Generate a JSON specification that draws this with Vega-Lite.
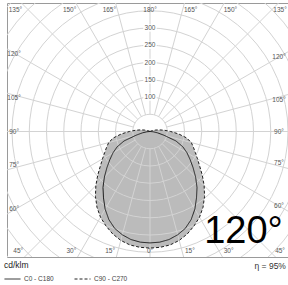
{
  "$schema": "https://vega.github.io/schema/vega-lite/v6.json",
  "width": 281,
  "height": 254,
  "autosize": "none",
  "padding": {"left": 7, "top": 3, "right": 0, "bottom": 28},
  "background": "white",
  "config": {"view": {"stroke": "#9a9a9a", "strokeWidth": 1}, "font": "Liberation Sans"},
  "datasets": {
    "curves": [
      {"s": "C0 - C180", "a": -90, "i": 0}, {"s": "C0 - C180", "a": -85, "i": 9}, {"s": "C0 - C180", "a": -80, "i": 22},
      {"s": "C0 - C180", "a": -75, "i": 42}, {"s": "C0 - C180", "a": -70, "i": 80}, {"s": "C0 - C180", "a": -65, "i": 105},
      {"s": "C0 - C180", "a": -60, "i": 124}, {"s": "C0 - C180", "a": -55, "i": 142}, {"s": "C0 - C180", "a": -50, "i": 163},
      {"s": "C0 - C180", "a": -45, "i": 187}, {"s": "C0 - C180", "a": -40, "i": 212}, {"s": "C0 - C180", "a": -35, "i": 235},
      {"s": "C0 - C180", "a": -30, "i": 260}, {"s": "C0 - C180", "a": -25, "i": 282}, {"s": "C0 - C180", "a": -20, "i": 299},
      {"s": "C0 - C180", "a": -15, "i": 310}, {"s": "C0 - C180", "a": -10, "i": 318}, {"s": "C0 - C180", "a": -5, "i": 322},
      {"s": "C0 - C180", "a": 0, "i": 323},
      {"s": "C0 - C180", "a": 5, "i": 322}, {"s": "C0 - C180", "a": 10, "i": 318}, {"s": "C0 - C180", "a": 15, "i": 310},
      {"s": "C0 - C180", "a": 20, "i": 299}, {"s": "C0 - C180", "a": 25, "i": 282}, {"s": "C0 - C180", "a": 30, "i": 260},
      {"s": "C0 - C180", "a": 35, "i": 235}, {"s": "C0 - C180", "a": 40, "i": 212}, {"s": "C0 - C180", "a": 45, "i": 187},
      {"s": "C0 - C180", "a": 50, "i": 163}, {"s": "C0 - C180", "a": 55, "i": 142}, {"s": "C0 - C180", "a": 60, "i": 124},
      {"s": "C0 - C180", "a": 65, "i": 105}, {"s": "C0 - C180", "a": 70, "i": 80}, {"s": "C0 - C180", "a": 75, "i": 42},
      {"s": "C0 - C180", "a": 80, "i": 22}, {"s": "C0 - C180", "a": 85, "i": 9}, {"s": "C0 - C180", "a": 90, "i": 0},
      {"s": "C90 - C270", "a": -120, "i": 0}, {"s": "C90 - C270", "a": -115, "i": 3}, {"s": "C90 - C270", "a": -110, "i": 8},
      {"s": "C90 - C270", "a": -105, "i": 16}, {"s": "C90 - C270", "a": -100, "i": 27}, {"s": "C90 - C270", "a": -95, "i": 42},
      {"s": "C90 - C270", "a": -90, "i": 60}, {"s": "C90 - C270", "a": -85, "i": 84}, {"s": "C90 - C270", "a": -80, "i": 108},
      {"s": "C90 - C270", "a": -75, "i": 124}, {"s": "C90 - C270", "a": -70, "i": 134}, {"s": "C90 - C270", "a": -65, "i": 145},
      {"s": "C90 - C270", "a": -60, "i": 159}, {"s": "C90 - C270", "a": -55, "i": 176}, {"s": "C90 - C270", "a": -50, "i": 198},
      {"s": "C90 - C270", "a": -45, "i": 222}, {"s": "C90 - C270", "a": -40, "i": 246}, {"s": "C90 - C270", "a": -35, "i": 268},
      {"s": "C90 - C270", "a": -30, "i": 287}, {"s": "C90 - C270", "a": -25, "i": 302}, {"s": "C90 - C270", "a": -20, "i": 316},
      {"s": "C90 - C270", "a": -15, "i": 327}, {"s": "C90 - C270", "a": -10, "i": 334}, {"s": "C90 - C270", "a": -5, "i": 337},
      {"s": "C90 - C270", "a": 0, "i": 338},
      {"s": "C90 - C270", "a": 5, "i": 337}, {"s": "C90 - C270", "a": 10, "i": 334}, {"s": "C90 - C270", "a": 15, "i": 327},
      {"s": "C90 - C270", "a": 20, "i": 316}, {"s": "C90 - C270", "a": 25, "i": 302}, {"s": "C90 - C270", "a": 30, "i": 287},
      {"s": "C90 - C270", "a": 35, "i": 268}, {"s": "C90 - C270", "a": 40, "i": 246}, {"s": "C90 - C270", "a": 45, "i": 222},
      {"s": "C90 - C270", "a": 50, "i": 198}, {"s": "C90 - C270", "a": 55, "i": 176}, {"s": "C90 - C270", "a": 60, "i": 159},
      {"s": "C90 - C270", "a": 65, "i": 145}, {"s": "C90 - C270", "a": 70, "i": 134}, {"s": "C90 - C270", "a": 75, "i": 124},
      {"s": "C90 - C270", "a": 80, "i": 108}, {"s": "C90 - C270", "a": 85, "i": 84}, {"s": "C90 - C270", "a": 90, "i": 60},
      {"s": "C90 - C270", "a": 95, "i": 42}, {"s": "C90 - C270", "a": 100, "i": 27}, {"s": "C90 - C270", "a": 105, "i": 16},
      {"s": "C90 - C270", "a": 110, "i": 8}, {"s": "C90 - C270", "a": 115, "i": 3}, {"s": "C90 - C270", "a": 120, "i": 0}
    ],
    "rings": [
      {"r": 50}, {"r": 100}, {"r": 150}, {"r": 200}, {"r": 250}, {"r": 300}, {"r": 350},
      {"r": 400}, {"r": 450}, {"r": 500}, {"r": 550}, {"r": 600}
    ],
    "ringLabels": [
      {"r": 100, "t": "100"}, {"r": 150, "t": "150"}, {"r": 200, "t": "200"}, {"r": 250, "t": "250"}, {"r": 300, "t": "300"}
    ],
    "spokes": [
      {"a": 0}, {"a": 15}, {"a": 30}, {"a": 45}, {"a": 60}, {"a": 75}, {"a": 90}, {"a": 105},
      {"a": 120}, {"a": 135}, {"a": 150}, {"a": 165}, {"a": 180}, {"a": 195}, {"a": 210}, {"a": 225},
      {"a": 240}, {"a": 255}, {"a": 270}, {"a": 285}, {"a": 300}, {"a": 315}, {"a": 330}, {"a": 345}
    ],
    "angleLabels": [
      {"lab": "135°", "a": 135, "k": -1, "e": "t"}, {"lab": "150°", "a": 150, "k": -1, "e": "t"},
      {"lab": "165°", "a": 165, "k": -1, "e": "t"}, {"lab": "180°", "a": 180, "k": 0, "e": "t"},
      {"lab": "165°", "a": 165, "k": 1, "e": "t"}, {"lab": "150°", "a": 150, "k": 1, "e": "t"},
      {"lab": "135°", "a": 135, "k": 1, "e": "t"},
      {"lab": "120°", "a": 120, "k": -1, "e": "s"}, {"lab": "105°", "a": 105, "k": -1, "e": "s"},
      {"lab": "90°", "a": 90, "k": -1, "e": "s"}, {"lab": "75°", "a": 75, "k": -1, "e": "s"},
      {"lab": "60°", "a": 60, "k": -1, "e": "s"},
      {"lab": "120°", "a": 120, "k": 1, "e": "s"}, {"lab": "105°", "a": 105, "k": 1, "e": "s"},
      {"lab": "90°", "a": 90, "k": 1, "e": "s"}, {"lab": "75°", "a": 75, "k": 1, "e": "s"},
      {"lab": "60°", "a": 60, "k": 1, "e": "s"},
      {"lab": "45°", "a": 45, "k": -1, "e": "b"}, {"lab": "30°", "a": 30, "k": -1, "e": "b"},
      {"lab": "15°", "a": 15, "k": -1, "e": "b"}, {"lab": "0°", "a": 0, "k": 0, "e": "b"},
      {"lab": "15°", "a": 15, "k": 1, "e": "b"}, {"lab": "30°", "a": 30, "k": 1, "e": "b"},
      {"lab": "45°", "a": 45, "k": 1, "e": "b"}
    ],
    "notes": [{"big": "120°", "eta": "η = 95%"}]
  },
  "layer": [
    {
      "data": {"name": "curves"},
      "transform": [
        {"calculate": "datum.i*sin(datum.a*PI/180)", "as": "x"},
        {"calculate": "-datum.i*cos(datum.a*PI/180)", "as": "y"}
      ],
      "mark": {"type": "line", "interpolate": "linear-closed", "fill": "#bbbbbb", "stroke": "#bbbbbb", "strokeWidth": 0, "clip": true},
      "encoding": {
        "x": {"field": "x", "type": "quantitative", "scale": {"domain": [-414.5, 400], "nice": false, "zero": false}, "axis": null},
        "y": {"field": "y", "type": "quantitative", "scale": {"domain": [-363.8, 372.5], "nice": false, "zero": false}, "axis": null},
        "order": {"field": "a", "type": "quantitative"},
        "detail": {"field": "s", "type": "nominal"}
      }
    },
    {
      "data": {"name": "rings"},
      "mark": {"type": "arc", "theta": 0, "theta2": 6.2832, "filled": false, "stroke": "#d3d3d3", "strokeWidth": 1, "clip": true},
      "encoding": {
        "x": {"datum": 0, "type": "quantitative", "scale": {"domain": [-414.5, 400], "nice": false, "zero": false}, "axis": null},
        "y": {"datum": 0, "type": "quantitative", "scale": {"domain": [-363.8, 372.5], "nice": false, "zero": false}, "axis": null},
        "radius": {"field": "r", "type": "quantitative", "stack": false, "scale": {"type": "linear", "domain": [0, 100], "range": [0, 34.5], "zero": true}}
      }
    },
    {
      "data": {"name": "spokes"},
      "transform": [
        {"calculate": "50*sin(datum.a*PI/180)", "as": "x"},
        {"calculate": "-50*cos(datum.a*PI/180)", "as": "y"},
        {"calculate": "900*sin(datum.a*PI/180)", "as": "x2"},
        {"calculate": "-900*cos(datum.a*PI/180)", "as": "y2"}
      ],
      "mark": {"type": "rule", "stroke": "#d3d3d3", "strokeWidth": 1, "clip": true},
      "encoding": {
        "x": {"field": "x", "type": "quantitative", "scale": {"domain": [-414.5, 400], "nice": false, "zero": false}, "axis": null},
        "y": {"field": "y", "type": "quantitative", "scale": {"domain": [-363.8, 372.5], "nice": false, "zero": false}, "axis": null},
        "x2": {"field": "x2"},
        "y2": {"field": "y2"}
      }
    },
    {
      "data": {"name": "ringLabels"},
      "mark": {"type": "point", "shape": "M-1,-0.55H1V0.55H-1Z", "filled": true, "fill": "white", "stroke": null, "opacity": 1, "size": 180},
      "encoding": {
        "x": {"datum": 0, "type": "quantitative", "scale": {"domain": [-414.5, 400], "nice": false, "zero": false}, "axis": null},
        "y": {"field": "r", "type": "quantitative", "scale": {"domain": [-363.8, 372.5], "nice": false, "zero": false}, "axis": null}
      }
    },
    {
      "data": {"name": "ringLabels"},
      "mark": {"type": "text", "fontSize": 6.5, "color": "#555", "align": "center", "baseline": "middle"},
      "encoding": {
        "x": {"datum": 0, "type": "quantitative", "scale": {"domain": [-414.5, 400], "nice": false, "zero": false}, "axis": null},
        "y": {"field": "r", "type": "quantitative", "scale": {"domain": [-363.8, 372.5], "nice": false, "zero": false}, "axis": null},
        "text": {"field": "t"}
      }
    },
    {
      "data": {"name": "curves"},
      "transform": [
        {"calculate": "datum.i*sin(datum.a*PI/180)", "as": "x"},
        {"calculate": "-datum.i*cos(datum.a*PI/180)", "as": "y"}
      ],
      "mark": {"type": "line", "interpolate": "linear-closed", "color": "#1e1e1e", "strokeWidth": 1, "clip": true},
      "encoding": {
        "x": {"field": "x", "type": "quantitative", "scale": {"domain": [-414.5, 400], "nice": false, "zero": false}, "axis": null},
        "y": {"field": "y", "type": "quantitative", "scale": {"domain": [-363.8, 372.5], "nice": false, "zero": false}, "axis": null},
        "order": {"field": "a", "type": "quantitative"},
        "strokeDash": {
          "field": "s", "type": "nominal",
          "scale": {"domain": ["C0 - C180", "C90 - C270"], "range": [[1, 0], [3, 2]]},
          "legend": {
            "title": "cd/klm", "orient": "none", "legendX": -3, "legendY": 258, "direction": "horizontal",
            "symbolType": "stroke", "symbolSize": 256, "symbolStrokeWidth": 1, "symbolStrokeColor": "#222",
            "labelFontSize": 6.5, "labelColor": "#444", "labelOffset": 3,
            "titleFontSize": 8.5, "titleFontWeight": "normal", "titleColor": "#222", "titlePadding": 1,
            "columnPadding": 18, "padding": 0
          }
        }
      }
    },
    {
      "data": {"name": "angleLabels"},
      "transform": [
        {"calculate": "datum.a*PI/180", "as": "rad"},
        {"calculate": "datum.e=='t' ? clamp(datum.k*(372.5*tan(PI-datum.rad)+18), -390, 377) : datum.e=='b' ? clamp(datum.k*(363.8*tan(datum.rad)+18), -390, 377) : (datum.k<0 ? -394 : 374)", "as": "x"},
        {"calculate": "datum.e=='s' ? -(datum.k<0 ? 414.5 : 400)/tan(datum.rad) : 0", "as": "yi"},
        {"calculate": "datum.e=='t' ? 352 : datum.e=='b' ? -346.4 : datum.yi - (datum.yi > 1 ? 14.5 : datum.yi < -1 ? -14.5 : 0)", "as": "y"}
      ],
      "mark": {"type": "text", "fontSize": 6.5, "color": "#555", "align": "center", "baseline": "middle"},
      "encoding": {
        "x": {"field": "x", "type": "quantitative", "scale": {"domain": [-414.5, 400], "nice": false, "zero": false}, "axis": null},
        "y": {"field": "y", "type": "quantitative", "scale": {"domain": [-363.8, 372.5], "nice": false, "zero": false}, "axis": null},
        "text": {"field": "lab"}
      }
    },
    {
      "data": {"name": "notes"},
      "mark": {"type": "text", "font": "Liberation Sans", "fontSize": 38, "color": "#000", "align": "right", "baseline": "alphabetic"},
      "encoding": {
        "x": {"datum": 385, "type": "quantitative", "scale": {"domain": [-414.5, 400], "nice": false, "zero": false}, "axis": null},
        "y": {"datum": -323, "type": "quantitative", "scale": {"domain": [-363.8, 372.5], "nice": false, "zero": false}, "axis": null},
        "text": {"field": "big"}
      }
    },
    {
      "data": {"name": "notes"},
      "mark": {"type": "text", "fontSize": 8.5, "color": "#333", "align": "right", "baseline": "middle"},
      "encoding": {
        "x": {"datum": 394, "type": "quantitative", "scale": {"domain": [-414.5, 400], "nice": false, "zero": false}, "axis": null},
        "y": {"datum": -390, "type": "quantitative", "scale": {"domain": [-363.8, 372.5], "nice": false, "zero": false}, "axis": null},
        "text": {"field": "eta"}
      }
    }
  ]
}
